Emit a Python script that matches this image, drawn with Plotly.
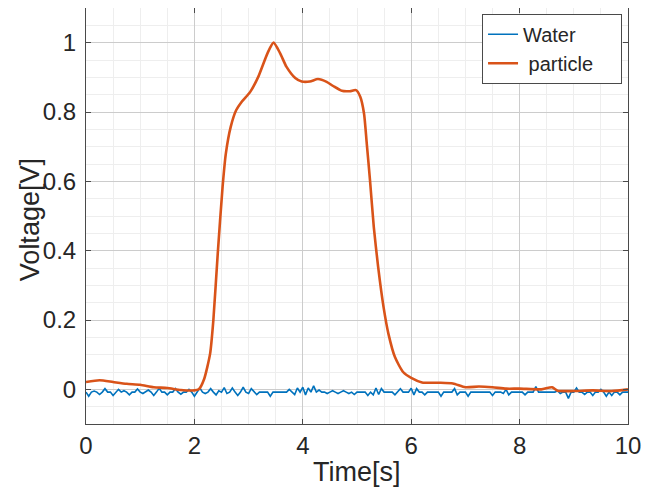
import numpy as np
import plotly.graph_objects as go

# ---------------- data ----------------
water_t = np.round(np.linspace(0, 10, 201), 3)
water_v = [
    -0.008, -0.02, -0.008, -0.005, -0.008, -0.015, -0.008, 0.002, -0.008, -0.008,
    -0.018, -0.008, 0.0, -0.008, -0.004, -0.008, -0.016, -0.008, -0.008, 0.001,
    -0.008, -0.012, -0.008, -0.002, -0.008, -0.018, -0.008, 0.003, -0.008, -0.008,
    -0.016, -0.008, -0.008, 0.002, -0.008, -0.014, -0.008, -0.008, 0.0, -0.008,
    -0.02, -0.008, 0.004, -0.008, -0.012, -0.008, 0.002, -0.008, -0.016, -0.004,
    -0.008, 0.005, -0.012, -0.008, 0.004, -0.008, -0.018, -0.008, 0.006, -0.008,
    -0.012, 0.002, -0.008, -0.015, -0.008, -0.008, -0.008, -0.008, -0.02, -0.008,
    -0.008, -0.008, -0.008, -0.008, -0.008, 0.0, -0.008, -0.015, 0.004, -0.008,
    0.006, -0.016, 0.004, -0.008, 0.01, -0.008, -0.002, -0.008, -0.008, -0.012,
    -0.008, -0.004, -0.008, -0.012, -0.008, -0.004, -0.008, -0.012, -0.008, -0.015,
    -0.008, -0.008, -0.008, -0.008, -0.018, -0.008, -0.016, 0.004, -0.015, 0.002,
    -0.008, -0.008, -0.008, -0.008, -0.016, -0.008, 0.002, -0.008, -0.008, -0.008,
    0.003, -0.016, 0.002, -0.008, -0.008, -0.016, -0.008, -0.008, -0.008, -0.008,
    -0.008, -0.02, -0.008, -0.008, -0.008, -0.008, 0.002, -0.016, -0.008, -0.008,
    -0.008, -0.02, -0.008, -0.008, -0.008, -0.008, -0.008, -0.008, -0.008, -0.008,
    -0.018, -0.008, -0.008, -0.008, -0.012, 0.0, -0.016, -0.008, -0.008, -0.008,
    -0.008, -0.008, -0.016, -0.008, -0.008, -0.008, 0.008, -0.008, -0.008, -0.008,
    -0.008, -0.008, -0.008, -0.008, -0.004, -0.012, -0.008, -0.008, -0.026, -0.008,
    -0.008, 0.004, -0.008, -0.008, -0.015, -0.008, -0.008, -0.018, -0.008, -0.008,
    0.0, -0.008, -0.02, -0.008, -0.018, -0.008, -0.008, -0.016, -0.008, -0.008,
    -0.008,
]

particle_t = [
    0, 0.25, 0.5, 0.75, 1.0, 1.25, 1.5, 1.75, 2.0, 2.08, 2.18, 2.29, 2.35, 2.43,
    2.52, 2.58, 2.67, 2.77, 2.87, 3.03, 3.18, 3.35, 3.46, 3.58, 3.70, 3.86, 3.98,
    4.13, 4.28, 4.44, 4.56, 4.72, 4.87, 4.98, 5.06, 5.13, 5.18, 5.24, 5.31, 5.39,
    5.49, 5.58, 5.70, 5.85, 6.0, 6.2, 6.5, 6.77, 7.0, 7.25, 7.5, 7.75, 8.0, 8.4,
    8.6, 8.7, 9.0, 9.35, 9.7, 10.0,
]
particle_v = [
    0.021, 0.026, 0.021, 0.016, 0.013, 0.006, 0.004, -0.002, -0.003, 0.0, 0.03,
    0.103, 0.2, 0.39, 0.584, 0.68, 0.757, 0.805, 0.829, 0.858, 0.902, 0.97, 1.0,
    0.97, 0.93, 0.898, 0.888, 0.888, 0.895, 0.887, 0.875, 0.861, 0.86, 0.863,
    0.844, 0.795, 0.709, 0.603, 0.468, 0.353, 0.237, 0.16, 0.093, 0.05, 0.033,
    0.02, 0.019, 0.017, 0.006, 0.008, 0.006, 0.002, 0.002, 0.0, 0.006, -0.004,
    -0.005, -0.003, -0.005, 0.0,
]

series_names = ["Water", "particle"]
x_ticks = [0, 2, 4, 6, 8, 10]
x_labels = ["0", "2", "4", "6", "8", "10"]
y_ticks = [0, 0.2, 0.4, 0.6, 0.8, 1]
y_labels = ["0", "0.2", "0.4", "0.6", "0.8", "1"]

# ---------------- figure ----------------
FONT = "Liberation Sans, Arial, sans-serif"
TXT = "#262626"
PAD = "\u00a0" * 4  # trailing blank room inside the legend box, like MATLAB

fig = go.Figure()
fig.add_trace(go.Scatter(
    x=water_t, y=water_v, mode="lines", name=series_names[0] + PAD,
    line=dict(color="#0072BD", width=1.6),
))
fig.add_trace(go.Scatter(
    x=particle_t, y=particle_v, mode="lines", name="\u00a0" + series_names[1] + PAD,
    line=dict(color="#D95319", width=2.6, shape="spline", smoothing=0.6),
))

axis_common = dict(
    showline=True, linecolor="#4a4a4a", linewidth=1, mirror="allticks",
    ticks="inside", ticklen=5, tickcolor="#4a4a4a",
    showgrid=True, gridcolor="#cccccc", gridwidth=1,
    zeroline=False, automargin=False,
    tickfont=dict(family=FONT, size=24, color=TXT),
)

fig.update_layout(
    width=654, height=490,
    margin=dict(l=78, r=34, t=0, b=74),
    paper_bgcolor="white", plot_bgcolor="white",
    font=dict(family=FONT, color=TXT),
    xaxis=dict(
        range=[0, 10], tickvals=x_ticks, ticktext=x_labels,
        ticklabelstandoff=0,
        minor=dict(dtick=0.5, showgrid=True, gridcolor="#eeeeee", ticks=""),
        **axis_common,
    ),
    yaxis=dict(
        range=[-0.1, 1.1], tickvals=y_ticks, ticktext=y_labels,
        ticklabelstandoff=4,
        minor=dict(dtick=0.05, tick0=0, showgrid=True, gridcolor="#eeeeee", ticks=""),
        **axis_common,
    ),
    legend=dict(
        x=0.989, y=0.986, xanchor="right", yanchor="top",
        bgcolor="white", bordercolor="#4a4a4a", borderwidth=1,
        font=dict(family=FONT, size=20, color=TXT),
        itemwidth=30, tracegroupgap=0,
    ),
    showlegend=True,
    annotations=[
        dict(text="Time[s]", xref="paper", yref="paper", x=0.5, y=0,
             xanchor="center", yanchor="middle", yshift=-48, showarrow=False,
             font=dict(family=FONT, size=27, color=TXT)),
        dict(text="Voltage[V]", xref="paper", yref="paper", x=0, y=0.49,
             xanchor="center", yanchor="middle", xshift=-56, textangle=-90,
             showarrow=False, font=dict(family=FONT, size=27, color=TXT)),
    ],
)

fig.write_html("out.html")
